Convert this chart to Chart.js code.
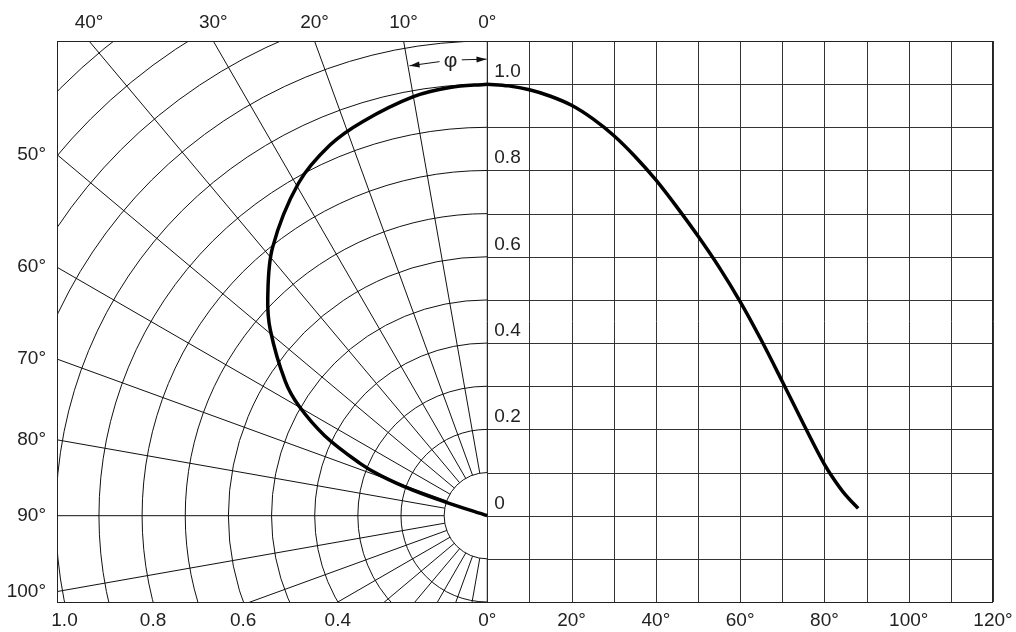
<!DOCTYPE html>
<html><head><meta charset="utf-8">
<script src="https://cdn.jsdelivr.net/npm/chart.js@4.4.1/dist/chart.umd.min.js"></script>
<style>html,body{margin:0;padding:0;background:#fff}#wrap{width:1016px;height:632px;position:relative}</style>
</head><body><div id="wrap"><canvas id="c"></canvas></div>
<script>
// ---- data ----
// Cartesian curve: relative luminous intensity vs. angle (degrees)
const angles    = [0, 5, 10, 15, 20, 25, 30, 35, 40, 45, 50, 55, 60, 65, 70, 75, 80, 82, 85, 88];
const intensity = [1.000, 0.996, 0.987, 0.972, 0.951, 0.920, 0.881, 0.833, 0.778, 0.715, 0.648, 0.576, 0.496, 0.407, 0.311, 0.213, 0.119, 0.088, 0.048, 0.017];
// Polar curve as drawn in the left half (angle from the axis, radius)
const polarAngles = [0, 5, 10, 17.5, 23, 29.6, 38.7, 45.2, 49.5, 56.4, 59.8, 63.8, 67.6, 69.4, 71.1, 71.9, 72];
const polarRadii  = [1.0, 0.996, 0.986, 0.958, 0.933, 0.886, 0.796, 0.717, 0.661, 0.562, 0.505, 0.42, 0.320, 0.264, 0.181, 0.100, 0];
// tick labels
const bottomIntensityTicks = [1.0, 0.8, 0.6, 0.4];
const bottomDegreeTicks = [0, 20, 40, 60, 80, 100, 120];
const leftAngleTicks = [50, 60, 70, 80, 90, 100];
const topAngleTicks = [40, 30, 20, 10, 0];
const innerIntensityTicks = [1.0, 0.8, 0.6, 0.4, 0.2, 0];

// ---- axis ranges ----
const Y_MIN = -0.2, Y_MAX = 1.1;
const XP_MIN = -0.9972, XP_MAX = 1.1720;     // polar half, intensity units
const DEG_MAX = 120;
const K = DEG_MAX / XP_MAX;                   // degree units per intensity unit
const DEG_MIN = XP_MIN * K;
const RAD = Math.PI / 180;

const FONT = {family: '"Liberation Sans", Arial, sans-serif', size: 19};
const TXT = '#222';

const bottomTicks = [
  ...bottomIntensityTicks.map(r => ({value: -Math.sqrt(r * r - Y_MIN * Y_MIN) * K, label: r.toFixed(1)})),
  ...bottomDegreeTicks.map(d => ({value: d, label: d + '°'}))
].sort((a, b) => a.value - b.value);
const leftTicks = leftAngleTicks.map(a => ({value: -XP_MIN / Math.tan(a * RAD), label: a + '°'}))
  .sort((a, b) => a.value - b.value);
const topTicks = topAngleTicks.map(a => ({value: -Y_MAX * Math.tan(a * RAD), label: a + '°'}))
  .sort((a, b) => a.value - b.value);

const cartData = angles.map((a, i) => ({x: a, y: intensity[i]}));
const polarData = polarAngles.map((a, i) => ({x: -polarRadii[i] * Math.sin(a * RAD), y: polarRadii[i] * Math.cos(a * RAD)}));

const gridPlugin = {
  id: 'grids',
  beforeDatasetsDraw(chart) {
    const {ctx, chartArea: {left, right, top, bottom}, scales: {x, y, xt}} = chart;
    const cx = x.getPixelForValue(0), cy = y.getPixelForValue(0);
    const ry = cy - y.getPixelForValue(1), rx = xt.getPixelForValue(1) - cx;
    ctx.save();
    // cartesian grid (right half)
    ctx.strokeStyle = '#333'; ctx.lineWidth = 1;
    ctx.beginPath();
    for (let d = 0; d <= DEG_MAX; d += 10) {
      const px = Math.round(x.getPixelForValue(d)) + 0.5;
      ctx.moveTo(px, top); ctx.lineTo(px, bottom);
    }
    for (let k = -2; k <= 11; k++) {
      const py = Math.round(y.getPixelForValue(k / 10)) + 0.5;
      ctx.moveTo(cx, py); ctx.lineTo(right, py);
    }
    ctx.stroke();
    // polar grid (left half)
    ctx.save();
    ctx.beginPath(); ctx.rect(left, top, cx - left, bottom - top); ctx.clip();
    ctx.strokeStyle = '#111'; ctx.lineWidth = 1;
    ctx.beginPath();
    for (let k = 1; k <= 15; k++) {
      const r = k / 10;
      ctx.moveTo(cx, cy - r * ry);
      ctx.ellipse(cx, cy, r * rx, r * ry, 0, -Math.PI / 2, Math.PI / 2, true);
    }
    for (let a = 0; a <= 180; a += 10) {
      const s = Math.sin(a * RAD), c = Math.cos(a * RAD);
      ctx.moveTo(cx - 0.1 * s * rx, cy - 0.1 * c * ry);
      ctx.lineTo(cx - 2 * s * rx, cy - 2 * c * ry);
    }
    ctx.stroke();
    ctx.restore();
    // frame
    ctx.strokeStyle = '#222'; ctx.lineWidth = 1;
    ctx.strokeRect(Math.round(left) + 0.5, Math.round(top) + 0.5, Math.round(right - left) - 1, Math.round(bottom - top));
    ctx.restore();
  },
  afterDatasetsDraw(chart) {
    const {ctx, scales: {x, y, xt}} = chart;
    const cx = x.getPixelForValue(0), cy = y.getPixelForValue(0);
    const ry = cy - y.getPixelForValue(1), rx = xt.getPixelForValue(1) - cx;
    ctx.save();
    ctx.font = FONT.size + 'px ' + FONT.family;
    ctx.fillStyle = TXT; ctx.textAlign = 'left'; ctx.textBaseline = 'alphabetic';
    innerIntensityTicks.forEach(v => {
      ctx.fillText(v === 0 ? '0' : v.toFixed(1), cx + 7, y.getPixelForValue(v) - 7);
    });
    // phi annotation
    const RA = 1.058;
    const pt = a => [cx - RA * Math.sin(a * RAD) * rx, cy - RA * Math.cos(a * RAD) * ry];
    const arrow = (p1, p2) => {
      ctx.beginPath(); ctx.moveTo(p1[0], p1[1]); ctx.lineTo(p2[0], p2[1]);
      ctx.strokeStyle = '#111'; ctx.lineWidth = 1; ctx.stroke();
      const ang = Math.atan2(p2[1] - p1[1], p2[0] - p1[0]);
      const L = 10, W = 3;
      ctx.beginPath();
      ctx.moveTo(p2[0], p2[1]);
      ctx.lineTo(p2[0] - L * Math.cos(ang) - W * Math.sin(ang), p2[1] - L * Math.sin(ang) + W * Math.cos(ang));
      ctx.lineTo(p2[0] - L * Math.cos(ang) + W * Math.sin(ang), p2[1] - L * Math.sin(ang) - W * Math.cos(ang));
      ctx.closePath(); ctx.fillStyle = '#111'; ctx.fill();
    };
    arrow(pt(3.2), pt(0.1));
    arrow(pt(6.0), pt(9.8));
    const pp = pt(4.6);
    ctx.fillStyle = TXT; ctx.textAlign = 'center'; ctx.font = '21px ' + FONT.family;
    ctx.fillText('φ', pp[0], pp[1] + 6);
    ctx.restore();
  }
};

new Chart(document.getElementById('c'), {
  type: 'scatter',
  data: {
    datasets: [
      {label: 'cartesian', data: cartData, xAxisID: 'x', yAxisID: 'y', showLine: true,
       borderColor: '#000', borderWidth: 3.5, pointRadius: 0, cubicInterpolationMode: 'monotone', fill: false},
      {label: 'polar', data: polarData, xAxisID: 'xt', yAxisID: 'y', showLine: true,
       borderColor: '#000', borderWidth: 3.5, pointRadius: 0, tension: 0.35, fill: false}
    ]
  },
  options: {
    responsive: true, maintainAspectRatio: false, animation: false,
    layout: {padding: {left: 0, right: 23, top: 0, bottom: 0}},
    plugins: {legend: {display: false}, tooltip: {enabled: false}},
    scales: {
      x: {type: 'linear', position: 'bottom', min: DEG_MIN, max: DEG_MAX,
          grid: {display: false, drawTicks: false}, border: {display: false},
          afterBuildTicks: s => { s.ticks = bottomTicks.map(t => ({value: t.value})); },
          afterFit: s => { s.height = 30; s.paddingLeft = 0; s.paddingRight = 0; },
          ticks: {autoSkip: false, maxRotation: 0, padding: 7, font: FONT, color: TXT,
                  callback: (v, i) => bottomTicks[i] ? bottomTicks[i].label : ''}},
      xt: {type: 'linear', position: 'top', min: XP_MIN, max: XP_MAX,
          grid: {display: false, drawTicks: false}, border: {display: false},
          afterBuildTicks: s => { s.ticks = topTicks.map(t => ({value: t.value})); },
          afterFit: s => { s.height = 41; s.paddingLeft = 0; s.paddingRight = 0; },
          ticks: {autoSkip: false, maxRotation: 0, padding: 7, font: FONT, color: TXT,
                  callback: (v, i) => topTicks[i] ? topTicks[i].label : ''}},
      y: {type: 'linear', position: 'left', min: Y_MIN, max: Y_MAX,
          grid: {display: false, drawTicks: false}, border: {display: false},
          afterBuildTicks: s => { s.ticks = leftTicks.map(t => ({value: t.value})); },
          afterFit: s => { s.width = 57; s.paddingTop = 0; s.paddingBottom = 0; },
          ticks: {autoSkip: false, padding: 11, font: FONT, color: TXT,
                  callback: (v, i) => leftTicks[i] ? leftTicks[i].label : ''}}
    }
  },
  plugins: [gridPlugin]
});
</script>
</body></html>
